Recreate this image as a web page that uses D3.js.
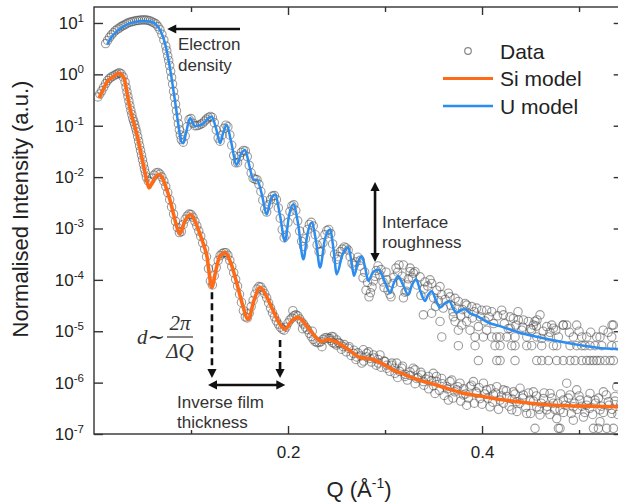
<!DOCTYPE html>
<html>
<head>
<meta charset="utf-8">
<script src="https://cdn.jsdelivr.net/npm/d3@7"></script>
<style>
  html, body { margin: 0; padding: 0; background: #fff; }
  svg { display: block; font-family: "Liberation Sans", Arial, sans-serif; }
</style>
</head>
<body>
<svg id="chart" width="618" height="502"></svg>
<script>
// Reflectivity curves: [Q (1/Å), log10(normalised intensity)]

// U layer model fit
const uModelLog = [
  [.0137,.586],[.0186,.74],[.024,.845],[.0343,.975],[.0423,1.02],[.0515,1.04],[.0577,1.03],[.0636,.975],
  [.0687,.845],[.0739,.553],[.0773,.229],[.0807,-.16],[.0842,-.61],[.0876,-1.06],[.090,-1.31],[.092,-1.34],
  [.0948,-1.15],[.099,-.85],[.104,-1.01],[.107,-1.0],[.111,-.98],[.1155,-.9],[.1213,-.82],[.1258,-1.05],
  [.13,-1.34],[.133,-1.15],[.1368,-.98],[.1412,-1.3],[.147,-1.76],[.1515,-1.55],[.1557,-1.47],[.1598,-1.75],
  [.1643,-2.05],[.168,-2.05],[.1732,-2.35],[.178,-2.73],[.182,-2.45],[.1866,-2.34],[.1918,-2.75],[.1969,-3.25],
  [.201,-2.75],[.2055,-2.53],[.2103,-2.9],[.2158,-3.6],[.2201,-3.1],[.2244,-2.89],[.2289,-3.25],[.233,-3.76],
  [.2381,-3.2],[.2433,-3.02],[.2469,-3.4],[.2502,-3.89],[.2562,-3.5],[.2622,-3.37],[.265,-3.6],[.268,-3.92],
  [.2722,-3.65],[.276,-3.54],[.2794,-3.75],[.2828,-4.02],[.2876,-3.85],[.2931,-3.8],[.299,-4.0],[.3052,-4.25],
  [.3093,-4.05],[.3137,-3.93],[.3186,-4.1],[.324,-4.29],[.3278,-4.1],[.332,-3.99],[.3361,-4.2],[.3412,-4.41],
  [.3443,-4.3],[.3481,-4.22],[.3526,-4.4],[.3567,-4.54],[.3619,-4.45],[.3663,-4.41],[.3701,-4.55],[.3739,-4.64],
  [.3784,-4.58],[.3825,-4.57],[.3876,-4.65],[.3945,-4.70],[.4062,-4.83],[.4186,-4.90],[.4392,-5.03],[.4598,-5.12],
  [.4804,-5.20],[.501,-5.27],[.5186,-5.32],[.5454,-5.35]
];

// Si substrate model fit
const siModelLog = [
  [.0052,-.46],[.0093,-.30],[.0137,-.14],[.0196,-.05],[.0258,.02],[.0309,-.07],[.0335,-.30],[.036,-.56],
  [.0386,-.78],[.0412,-.95],[.0447,-1.21],[.0498,-1.66],[.055,-2.11],[.0567,-2.21],[.0598,-2.12],[.0634,-2.0],
  [.067,-1.95],[.0706,-2.02],[.0739,-2.18],[.0784,-2.45],[.0825,-2.76],[.0856,-2.98],[.0887,-3.10],[.0938,-2.85],
  [.0997,-2.73],[.1046,-2.88],[.11,-3.15],[.1144,-3.4],[.1165,-3.55],[.1186,-3.85],[.1213,-4.15],[.1258,-3.8],
  [.1294,-3.55],[.135,-3.47],[.1412,-3.68],[.147,-4.05],[.1526,-4.45],[.159,-4.77],[.1649,-4.4],[.1711,-4.15],
  [.1773,-4.3],[.1832,-4.54],[.1897,-4.8],[.1969,-4.96],[.2036,-4.8],[.2106,-4.73],[.2165,-4.83],[.2227,-4.98],
  [.2289,-5.12],[.2351,-5.2],[.2415,-5.16],[.2474,-5.19],[.257,-5.29],[.2639,-5.38],[.2742,-5.51],[.2876,-5.55],
  [.2979,-5.64],[.3082,-5.75],[.3186,-5.83],[.332,-5.93],[.3464,-6.01],[.3619,-6.10],[.3773,-6.19],[.401,-6.27],
  [.4186,-6.33],[.4361,-6.37],[.4598,-6.42],[.4876,-6.45],[.5144,-6.46],[.5454,-6.47]
];

// measured reflectivity, U-layer sample
const uDataLog = [
  [.012,.60],[.014,.66],[.016,.72],[.018,.77],[.020,.81],[.022,.85],[.024,.88],[.026,.90],[.028,.93],[.030,.95],
  [.032,.97],[.034,.99],[.036,1.01],[.038,1.02],[.040,1.03],[.042,1.04],[.044,1.05],[.046,1.05],[.048,1.06],
  [.050,1.06],[.052,1.06],[.054,1.06],[.056,1.05],[.058,1.04],[.060,1.02],[.062,1.00],[.064,.98],[.066,.93],
  [.068,.87],[.070,.78],[.072,.67],[.074,.55],[.075,.46],[.076,.36],[.077,.27],[.078,.17],[.079,.06],[.080,-.06],
  [.081,-.19],[.082,-.33],[.083,-.45],[.084,-.58],[.085,-.71],[.086,-.84],[.087,-.96],[.088,-1.08],[.089,-1.18],
  [.090,-1.27],[.092,-1.32],[.094,-1.20],[.096,-1.02],[.098,-.88],[.100,-.86],[.102,-.95],[.104,-1.00],[.106,-1.00],
  [.108,-.99],[.110,-.97],[.112,-.95],[.114,-.91],[.116,-.87],[.118,-.84],[.120,-.82],[.122,-.84],[.124,-.94],
  [.126,-1.08],[.128,-1.24],[.130,-1.30],[.132,-1.18],[.134,-1.05],[.136,-.99],[.138,-1.02],[.140,-1.18],
  [.142,-1.38],[.144,-1.58],[.146,-1.72],[.148,-1.72],[.150,-1.60],[.152,-1.52],[.154,-1.48],[.156,-1.49],
  [.158,-1.60],[.160,-1.77],[.162,-1.92],[.164,-2.02],[.166,-2.04],[.168,-2.05],[.170,-2.14],[.172,-2.28],
  [.174,-2.45],[.176,-2.62],[.178,-2.68],[.180,-2.54],[.182,-2.44],[.184,-2.37],[.186,-2.36],[.188,-2.44],
  [.190,-2.60],[.192,-2.80],[.194,-3.02],[.196,-3.18],[.198,-3.13],[.200,-2.88],[.202,-2.67],[.204,-2.56],
  [.206,-2.54],[.208,-2.65],[.210,-2.85],[.212,-3.05],[.214,-3.25],[.216,-3.35],[.218,-3.20],[.220,-3.02],
  [.222,-2.92],[.224,-2.88],[.226,-2.95],[.228,-3.12],[.230,-3.32],[.232,-3.45],[.234,-3.45],[.236,-3.28],
  [.238,-3.12],[.240,-3.04],[.242,-3.02],[.244,-3.10],[.246,-3.30],[.248,-3.50],[.250,-3.60],[.252,-3.55],
  [.254,-3.45],[.256,-3.40],[.258,-3.36],[.260,-3.38],[.262,-3.42],[.264,-3.55],[.266,-3.68],[.268,-3.72],
  [.270,-3.65],[.272,-3.56],
  [.2742,-3.73],[.2773,-3.96],[.2804,-4.20],[.2835,-4.33],[.2866,-4.14],[.2897,-3.93],[.2928,-3.73],[.2959,-3.80],
  [.2979,-4.04],[.3010,-3.85],[.3031,-4.20],[.3062,-4.33],[.3082,-4.07],[.3113,-3.77],[.3144,-3.71],[.3175,-3.93],
  [.3206,-4.24],[.3227,-4.10],[.3258,-3.84],
  [.2745,-3.62],[.2790,-3.85],[.2820,-4.05],[.2850,-4.25],[.2880,-4.02],[.2910,-3.82],[.2945,-3.90],[.2990,-4.15],
  [.3020,-4.00],[.3050,-4.28],[.3090,-3.95],[.3130,-3.85],[.3160,-4.05],[.3190,-4.35],[.3220,-4.22],[.3240,-3.98],
  [.3280,-3.95],[.3330,-4.10],[.3370,-4.30],[.3400,-4.18],[.3440,-4.12],[.3500,-4.35],[.3520,-4.52],[.3550,-4.40],
  [.3600,-4.55],[.3620,-4.38],[.3680,-4.50],[.3700,-4.62],[.3740,-4.55],[.3780,-4.70],[.3800,-4.58],[.3860,-4.65],
  [.3900,-4.74],[.3920,-4.62],[.3980,-4.72],[.4030,-4.80],[.4070,-4.72],[.4120,-4.85],[.4160,-4.70],[.4230,-4.85],
  [.4270,-4.95],[.4350,-4.88],[.4420,-4.92],[.4500,-4.95],[.4560,-4.90],[.4630,-5.00],[.4700,-5.02],[.4760,-4.98],
  [.4900,-5.02],[.5000,-5.00],[.5120,-5.02],[.5250,-4.98],[.5300,-5.02],
  [.3189,-3.71],[.3258,-3.77],[.3292,-3.87],[.3309,-3.84],[.3361,-3.94],[.3412,-4.04],[.3464,-4.00],[.3481,-4.07],
  [.3533,-4.20],[.3567,-4.13],[.3585,-4.29],[.3653,-4.26],[.3670,-4.33],[.3722,-4.36],[.3756,-4.42],[.3825,-4.46],
  [.3842,-4.49],[.3894,-4.52],[.3945,-4.55],[.3997,-4.59],[.4048,-4.59],[.4100,-4.62],[.4203,-4.59],[.4220,-4.68],
  [.4289,-4.72],[.4323,-4.75],[.4374,-4.78],[.4426,-4.78],[.4477,-4.81],[.4546,-4.81],[.4598,-4.68],[.4529,-4.88],
  [.4667,-4.91],[.4719,-4.88],[.4371,-4.62],[.4567,-4.78],[.4835,-4.88],[.5340,-4.88],
  [.3395,-4.68],[.3481,-4.65],[.3567,-4.81],[.3585,-5.11],[.3704,-4.72],[.3722,-4.81],[.3756,-4.98],[.3791,-4.88],
  [.3842,-4.81],[.3876,-4.98],[.3928,-5.11],[.3962,-4.91],[.4013,-5.11],[.4048,-4.98],[.4100,-5.11],[.4152,-5.11],
  [.4186,-5.11],[.4255,-5.11],[.4289,-4.94],[.4340,-5.11],[.4409,-4.98],[.4461,-5.11],[.4512,-4.98],[.4564,-5.11],
  [.4615,-5.14],[.4684,-5.11],[.4735,-4.94],[.4787,-5.11],[.4838,-4.88],[.4873,-4.88],[.4941,-5.11],[.4976,-4.88],
  [.5028,-5.11],[.5079,-5.11],[.5182,-5.11],[.5216,-5.11],[.5337,-5.11],[.5354,-4.88],
  [.3756,-5.28],[.3928,-5.28],[.4134,-5.28],[.4186,-5.28],[.4306,-5.28],[.4340,-5.28],[.4461,-5.28],[.4512,-5.28],
  [.4615,-5.28],[.4735,-5.28],[.4770,-5.28],[.4907,-5.28],[.4976,-5.28],[.5028,-5.28],[.5062,-5.28],[.5113,-5.28],
  [.5165,-5.28],[.5234,-5.28],[.5337,-5.28],[.5389,-5.28],
  [.3962,-5.57],[.4152,-5.57],[.4186,-5.57],[.4340,-5.57],[.4564,-5.57],[.4615,-5.57],[.4684,-5.57],[.4770,-5.57],
  [.4838,-5.57],[.4907,-5.57],[.4959,-5.57],[.5028,-5.57],[.5079,-5.57],[.5113,-5.57],[.5148,-5.57],[.5182,-5.57],
  [.5216,-5.57],[.5268,-5.57],[.5320,-5.57],[.5354,-5.57]
];

// measured reflectivity, bare Si sample
const siDataLog = [
  [.004,-.44],[.006,-.38],[.008,-.32],[.010,-.25],[.012,-.18],[.014,-.12],[.016,-.08],[.018,-.05],[.020,-.03],
  [.022,-.01],[.024,.01],[.026,.03],[.028,.01],[.030,-.05],[.032,-.15],[.033,-.25],[.034,-.34],[.035,-.43],
  [.036,-.52],[.037,-.61],[.038,-.70],[.039,-.78],[.040,-.86],[.041,-.92],[.042,-.98],[.043,-1.05],[.044,-1.12],
  [.045,-1.21],[.046,-1.30],[.047,-1.39],[.048,-1.48],[.049,-1.57],[.050,-1.66],[.051,-1.75],[.052,-1.84],
  [.053,-1.92],[.054,-2.00],[.056,-2.08],[.058,-2.08],[.060,-2.02],[.062,-1.96],[.064,-1.92],[.066,-1.91],
  [.068,-1.94],[.070,-2.00],[.072,-2.08],[.074,-2.18],[.076,-2.30],[.078,-2.44],[.080,-2.58],[.082,-2.72],
  [.084,-2.86],[.086,-2.98],[.088,-3.08],[.090,-3.06],[.092,-2.92],[.094,-2.82],[.096,-2.76],[.098,-2.72],
  [.100,-2.73],[.102,-2.78],[.104,-2.86],[.106,-2.95],[.108,-3.05],[.110,-3.15],[.112,-3.28],[.114,-3.40],
  [.116,-3.55],[.118,-3.78],[.120,-4.02],[.122,-4.10],[.124,-3.92],[.126,-3.76],[.128,-3.62],[.130,-3.53],
  [.132,-3.49],[.134,-3.47],[.136,-3.47],[.138,-3.52],[.140,-3.62],[.142,-3.74],[.144,-3.86],[.146,-3.99],
  [.148,-4.12],[.150,-4.28],[.152,-4.44],[.154,-4.60],[.156,-4.72],[.158,-4.74],[.160,-4.65],[.162,-4.52],
  [.164,-4.40],[.166,-4.28],[.168,-4.18],[.170,-4.13],[.172,-4.14],[.174,-4.20],[.176,-4.27],[.178,-4.35],
  [.180,-4.45],[.182,-4.55],[.184,-4.64],[.186,-4.72],[.188,-4.80],[.190,-4.86],[.192,-4.92],[.194,-4.96],
  [.196,-4.98],[.198,-4.92],[.200,-4.84],[.202,-4.78],[.204,-4.74],[.206,-4.70],[.208,-4.68],[.210,-4.70],
  [.212,-4.76],[.214,-4.82],[.216,-4.86],[.218,-4.92],[.220,-4.97],[.222,-5.04],[.224,-5.10],[.226,-5.16],
  [.228,-5.20],[.230,-5.22],[.232,-5.22],[.234,-5.20],[.236,-5.16],[.238,-5.13],[.240,-5.12],[.242,-5.14],
  [.244,-5.18],[.246,-5.22],[.248,-5.24],[.250,-5.27],
  [.205,-4.60],[.215,-4.95],[.225,-5.00],[.235,-5.30],[.245,-5.10],
  [.2433,-5.14],[.2467,-5.11],[.2502,-5.17],[.2536,-5.24],[.2570,-5.30],[.2622,-5.33],[.2674,-5.43],[.2708,-5.50],
  [.2760,-5.62],[.2777,-5.36],[.2811,-5.43],[.2845,-5.53],[.2880,-5.46],[.2948,-5.46],[.2931,-5.62],[.3000,-5.59],
  [.3017,-5.72],[.3069,-5.66],[.3103,-5.82],[.3120,-5.62],[.3172,-5.72],[.3206,-5.88],[.3258,-5.79],[.3309,-5.75],
  [.3326,-5.92],[.3378,-5.85],[.3395,-5.98],[.3447,-5.88],[.3498,-5.82],[.3515,-6.21],[.3533,-5.98],[.3584,-5.92],
  [.3636,-6.08],[.3653,-6.34],[.3688,-5.95],[.3739,-6.14],[.3773,-6.01],[.3808,-6.24],[.3842,-6.44],[.3876,-6.08],
  [.3911,-5.98],[.3945,-6.21],[.3979,-6.31],[.4014,-6.01],[.4048,-6.14],[.4082,-6.47],[.4117,-6.24],[.4152,-6.08],
  [.4186,-6.34],[.4220,-6.14],[.4255,-6.27],[.4306,-6.53],[.4323,-6.18],[.4357,-6.37],[.4392,-6.11],[.4426,-6.24],
  [.4461,-6.60],[.4495,-6.34],[.4529,-6.18],[.4546,-6.89],[.4564,-6.47],[.4632,-6.31],[.4667,-6.53],[.4701,-6.21],
  [.4735,-6.40],[.4787,-6.89],[.4804,-6.89],[.4804,-6.53],[.4838,-6.34],[.4873,-6.01],[.4907,-6.24],[.4941,-6.47],
  [.4976,-6.14],[.5010,-6.34],[.5045,-6.67],[.5079,-6.44],[.5113,-6.21],[.5148,-6.89],[.5165,-6.34],[.5199,-6.89],
  [.5216,-6.53],[.5251,-6.18],[.5285,-6.89],[.5302,-6.37],[.5337,-6.60],[.5354,-6.89],[.5371,-6.27],[.5389,-6.08],
  [.4941,-6.73],[.4770,-6.70],[.4598,-6.63],[.5216,-6.76],
  [.252,-5.22],[.255,-5.35],[.258,-5.26],[.260,-5.40],[.263,-5.30],[.265,-5.47],[.268,-5.37],[.270,-5.55],
  [.272,-5.42],[.275,-5.48],[.278,-5.58],[.281,-5.50],[.283,-5.40],[.286,-5.60],[.289,-5.52],[.291,-5.66],
  [.293,-5.55],[.296,-5.70],[.299,-5.58],[.302,-5.66],[.305,-5.78],[.307,-5.62],[.310,-5.72],[.313,-5.90],
  [.315,-5.78],[.318,-5.68],[.321,-5.84],[.323,-5.95],[.326,-5.86],[.329,-5.72],[.331,-6.02],[.334,-5.90],
  [.337,-5.80],[.340,-6.05],[.342,-5.93],[.345,-6.12],[.348,-5.96],[.350,-6.06],[.353,-5.88],[.356,-6.15],
  [.359,-6.02],[.361,-6.25],[.364,-6.12],[.367,-5.98],[.370,-6.30],[.372,-6.18],[.375,-6.08],[.378,-6.36],
  [.381,-6.12],[.383,-6.22],[.386,-6.30],[.389,-6.05],[.392,-6.40],[.394,-6.18],[.397,-6.10],[.400,-6.42],
  [.403,-6.22],[.406,-6.30],[.409,-6.12],[.411,-6.38],[.414,-6.20],[.417,-6.52],[.420,-6.26],[.422,-6.40],
  [.425,-6.16],[.428,-6.46],[.431,-6.32],[.434,-6.22],[.436,-6.56],[.439,-6.40],[.442,-6.30],[.445,-6.48],
  [.448,-6.20],[.450,-6.60],[.453,-6.36],[.456,-6.26],[.459,-6.52],[.461,-6.40],[.464,-6.20],[.467,-6.46],
  [.470,-6.62],[.472,-6.30],[.475,-6.52],[.478,-6.40],[.481,-6.22],[.484,-6.58],[.486,-6.44],[.489,-6.30],
  [.492,-6.60],[.495,-6.40],[.498,-6.52],[.500,-6.26],[.503,-6.46],[.506,-6.58],[.509,-6.34],[.511,-6.50],
  [.514,-6.62],[.517,-6.40],[.520,-6.30],[.523,-6.46],[.525,-6.58],[.528,-6.24],[.531,-6.44],[.534,-6.52],
  [.537,-6.36],[.540,-6.62],[.543,-6.42]
];

// axis ticks and labels
const xMajorTicks = [0.2, 0.4];
const xMinorTicks = [0.1, 0.3, 0.5];
const yTickExponents = [1, 0, -1, -2, -3, -4, -5, -6, -7];

// legend entries
const legendLabels = ["Data", "Si model", "U model"];
const legendKinds = ["circle", "line", "line"];

const colors = { si: "#ff6a17", u: "#2b8df0", data: "#4a4a4a", axis: "#333", text: "#222" };

const svg = d3.select("#chart");
const plotLeft = 94, plotRight = 622.7, plotTop = 7, plotBottom = 434;

const x = d3.scaleLinear().domain([0, 0.545]).range([plotLeft, plotRight]);
const y = d3.scaleLog().domain([1e-7, Math.pow(10, 1.311)]).range([plotBottom, plotTop]);
const yv = v => y(Math.pow(10, v));

const plot = svg.append("g");
plot.append("clipPath").attr("id", "clip")
  .append("rect").attr("x", plotLeft).attr("y", plotTop)
  .attr("width", plotRight - plotLeft).attr("height", plotBottom - plotTop);

// data circles
const dataG = plot.append("g").attr("clip-path", "url(#clip)");
[siDataLog, uDataLog].forEach(series => {
  dataG.append("g").selectAll("circle").data(series).join("circle")
    .attr("cx", d => x(d[0])).attr("cy", d => yv(d[1])).attr("r", 4.2)
    .attr("fill", "none").attr("stroke", colors.data)
    .attr("stroke-opacity", 0.55).attr("stroke-width", 1.1);
});

// model lines
const line = d3.line().x(d => x(d[0])).y(d => yv(d[1])).curve(d3.curveMonotoneX);
plot.append("path").datum(siModelLog).attr("d", line)
  .attr("fill", "none").attr("stroke", colors.si).attr("stroke-width", 3.6)
  .attr("stroke-linejoin", "round").attr("clip-path", "url(#clip)");
plot.append("path").datum(uModelLog).attr("d", line)
  .attr("fill", "none").attr("stroke", colors.u).attr("stroke-width", 2.5)
  .attr("stroke-linejoin", "round").attr("clip-path", "url(#clip)");

// frame
svg.append("rect").attr("x", plotLeft).attr("y", plotTop)
  .attr("width", plotRight - plotLeft).attr("height", plotBottom - plotTop)
  .attr("fill", "none").attr("stroke", colors.axis).attr("stroke-width", 1.4);

function styleAxis(g) {
  g.select(".domain").remove();
  g.selectAll("line").attr("stroke", colors.axis).attr("stroke-width", 1.4);
  g.attr("font-family", "Liberation Sans, Arial, sans-serif").attr("font-size", 17).attr("color", colors.text);
}

const yTickVals = yTickExponents.map(e => Math.pow(10, e));

svg.append("g").attr("transform", `translate(0,${plotBottom})`)
  .call(d3.axisBottom(x).tickValues(xMajorTicks).tickSize(-8).tickPadding(12).tickFormat(d3.format(".1f")))
  .call(styleAxis);
svg.append("g").attr("transform", `translate(0,${plotBottom})`)
  .call(d3.axisBottom(x).tickValues(xMinorTicks).tickSize(-4).tickFormat(""))
  .call(styleAxis);
svg.append("g").attr("transform", `translate(0,${plotTop})`)
  .call(d3.axisTop(x).tickValues(xMajorTicks).tickSize(-8).tickFormat(""))
  .call(styleAxis);
svg.append("g").attr("transform", `translate(0,${plotTop})`)
  .call(d3.axisTop(x).tickValues(xMinorTicks).tickSize(-5).tickFormat(""))
  .call(styleAxis);
svg.append("g").attr("transform", `translate(${plotLeft},0)`)
  .call(d3.axisLeft(y).tickValues(yTickVals).tickSize(-9).tickFormat(""))
  .call(styleAxis);
svg.append("g").attr("transform", `translate(${plotRight},0)`)
  .call(d3.axisRight(y).tickValues(yTickVals).tickSize(-9).tickFormat(""))
  .call(styleAxis);

// y tick labels as powers of ten
const yLab = svg.append("g").attr("fill", colors.text).attr("font-size", 17);
yTickExponents.forEach(e => {
  const t = yLab.append("text").attr("x", plotLeft - 10).attr("y", y(Math.pow(10, e)) + 6).attr("text-anchor", "end");
  t.append("tspan").text("10");
  t.append("tspan").attr("dy", -7).attr("font-size", 11.5).text(String(e));
});

// axis titles
const xt = svg.append("text").attr("x", 359).attr("y", 497).attr("text-anchor", "middle")
  .attr("font-size", 22).attr("fill", colors.text);
xt.append("tspan").text("Q (Å");
xt.append("tspan").attr("dy", -9).attr("font-size", 14).text("-1");
xt.append("tspan").attr("dy", 9).text(")");

svg.append("text").attr("transform", "translate(28,209) rotate(-90)").attr("text-anchor", "middle")
  .attr("font-size", 22).attr("fill", colors.text).text("Normalised Intensity (a.u.)");

// legend
const lg = svg.append("g").attr("font-size", 21).attr("fill", colors.text);
legendLabels.forEach((lab, i) => {
  const cy = 51 + i * 27.5;
  if (legendKinds[i] === "circle") {
    lg.append("circle").attr("cx", 468).attr("cy", cy).attr("r", 3.3)
      .attr("fill", "none").attr("stroke", "#888").attr("stroke-width", 1.2);
  } else {
    lg.append("line").attr("x1", 443).attr("x2", 493).attr("y1", cy).attr("y2", cy)
      .attr("stroke", i === 1 ? colors.si : colors.u).attr("stroke-width", i === 1 ? 3 : 2.5);
  }
  lg.append("text").attr("x", 500).attr("y", cy + 7.5).text(lab);
});

// annotation arrows (positions in data units)
const ann = svg.append("g");
function arrow(q1, v1, q2, v2, opts) {
  const x1 = x(q1), y1 = yv(v1), x2 = x(q2), y2 = yv(v2);
  const L = 9, W = 4.6;
  const dx = x2 - x1, dy = y2 - y1, len = Math.hypot(dx, dy);
  const ux = dx / len, uy = dy / len;
  const sx = opts.startHead ? x1 + ux * (L - 1) : x1, sy = opts.startHead ? y1 + uy * (L - 1) : y1;
  const ex = opts.endHead ? x2 - ux * (L - 1) : x2, ey = opts.endHead ? y2 - uy * (L - 1) : y2;
  ann.append("line").attr("x1", sx).attr("y1", sy).attr("x2", ex).attr("y2", ey)
    .attr("stroke", "#111").attr("stroke-width", 2.6)
    .attr("stroke-dasharray", opts.dashed ? "7,4" : null);
  const head = (tx, ty, dxu, dyu) => {
    const bx = tx - dxu * L, by = ty - dyu * L;
    ann.append("path")
      .attr("d", `M${tx},${ty}L${bx - dyu * W},${by + dxu * W}L${bx + dyu * W},${by - dxu * W}Z`)
      .attr("fill", "#111");
  };
  if (opts.endHead) head(x2, y2, ux, uy);
  if (opts.startHead) head(x1, y1, -ux, -uy);
}

arrow(0.1505, 0.883, 0.0755, 0.883, { endHead: true });
arrow(0.2897, -2.095, 0.2897, -3.652, { endHead: true, startHead: true });
arrow(0.1216, -4.24, 0.1216, -5.91, { endHead: true, dashed: true });
arrow(0.1918, -5.17, 0.1918, -5.91, { endHead: true, dashed: true });
arrow(0.1175, -6.045, 0.1972, -6.045, { endHead: true, startHead: true });

// annotation text
const at = svg.append("g").attr("font-size", 17).attr("fill", "#333");
[["Electron", 178, 50], ["density", 178, 71], ["Interface", 382, 228], ["roughness", 382, 248],
 ["Inverse film", 177, 408], ["thickness", 177, 428]].forEach(([s, tx, ty]) =>
  at.append("text").attr("x", tx).attr("y", ty).text(s));

// d ~ 2π / ΔQ
const fm = svg.append("g").attr("font-family", "Liberation Serif, DejaVu Serif, serif").attr("fill", "#333")
  .attr("font-style", "italic").attr("font-size", 21);
fm.append("text").attr("x", 137).attr("y", 344).text("d∼");
fm.append("text").attr("x", 180).attr("y", 330).attr("text-anchor", "middle").text("2π");
fm.append("line").attr("x1", 167).attr("x2", 193).attr("y1", 337).attr("y2", 337)
  .attr("stroke", "#333").attr("stroke-width", 1.2);
fm.append("text").attr("x", 180).attr("y", 358).attr("text-anchor", "middle").text("ΔQ");
</script>
</body>
</html>
